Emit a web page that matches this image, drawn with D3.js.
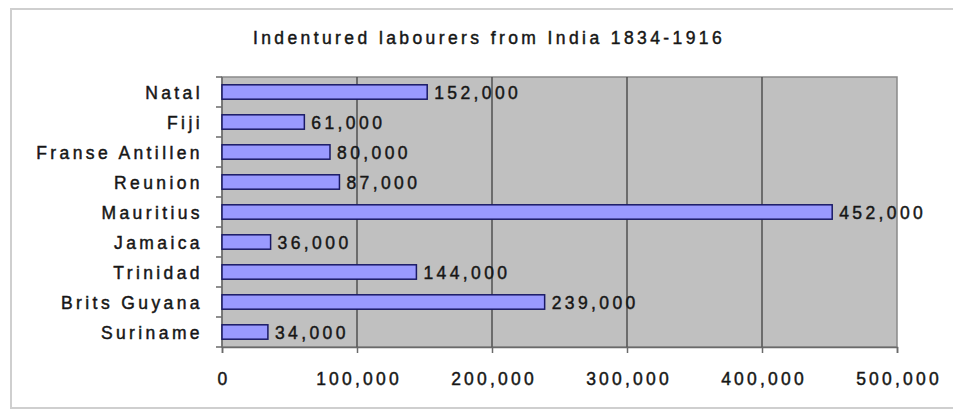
<!DOCTYPE html>
<html>
<head>
<meta charset="utf-8">
<script src="https://cdn.jsdelivr.net/npm/d3@7"></script>
<style>
  body { margin: 0; background: #fff; }
  text { font-family: "Liberation Sans", Arial, sans-serif; fill: #161616; stroke: #161616; stroke-width: 0.45; }
</style>
</head>
<body>
<svg></svg>
<script>
const places = ["Natal", "Fiji", "Franse Antillen", "Reunion", "Mauritius", "Jamaica", "Trinidad", "Brits Guyana", "Suriname"];
const labourers = [152000, 61000, 80000, 87000, 452000, 36000, 144000, 239000, 34000];
const xTicks = [0, 100000, 200000, 300000, 400000, 500000];

const width = 953;
const height = 410;
const margin = { top: 77, left: 222, bottom: 63, right: 56 };

const canvas = d3.select("svg").attr("width", width).attr("height", height);

// outer frame
canvas.append("rect")
  .attr("x", 11).attr("y", 9)
  .attr("width", 960).attr("height", 399)
  .attr("fill", "#fff").attr("stroke", "#cfcfcf").attr("stroke-width", 2);

const xScale = d3.scaleLinear().domain([0, 500000])
  .range([margin.left, width - margin.right]);

const yScale = d3.scaleBand().domain(places)
  .range([margin.top, height - margin.bottom])
  .paddingInner(0.52).paddingOuter(0.26);

// plot area
canvas.append("rect")
  .attr("x", xScale(0)).attr("y", margin.top)
  .attr("width", xScale(500000) - xScale(0))
  .attr("height", height - margin.bottom - margin.top)
  .attr("fill", "#c0c0c0").attr("stroke", "#8a8a8a").attr("stroke-width", 1.5);

// grid lines
canvas.append("g")
  .selectAll("line")
  .data(xTicks.slice(1, -1))
  .enter()
  .append("line")
  .attr("x1", d => xScale(d)).attr("x2", d => xScale(d))
  .attr("y1", margin.top).attr("y2", height - margin.bottom)
  .attr("stroke", "#505050").attr("stroke-width", 1.5);

// x axis
let xAxis = d3.axisBottom(xScale).tickValues(xTicks)
  .tickFormat(d3.format(",")).tickSize(6).tickPadding(20);
const gx = canvas.append("g")
  .attr("transform", `translate(0,${height - margin.bottom})`)
  .call(xAxis);
gx.select(".domain").attr("stroke", "#6a6a6a").attr("stroke-width", 1.5);
gx.selectAll(".tick line").attr("stroke", "#6a6a6a").attr("stroke-width", 1.5);
gx.selectAll("text").attr("font-size", 17.5).attr("letter-spacing", 3.2)
  .attr("dx", 1.5)
  .attr("font-family", "Liberation Sans, Arial, sans-serif");

// y axis: ticks between categories
const gy = canvas.append("g");
const bounds = d3.range(places.length + 1).map(i => margin.top + (height - margin.bottom - margin.top) * i / places.length);
gy.append("line")
  .attr("x1", xScale(0)).attr("x2", xScale(0))
  .attr("y1", margin.top).attr("y2", height - margin.bottom)
  .attr("stroke", "#6a6a6a").attr("stroke-width", 1.5);
gy.selectAll(".tk")
  .data(bounds)
  .enter()
  .append("line")
  .attr("x1", xScale(0) - 6).attr("x2", xScale(0))
  .attr("y1", d => d).attr("y2", d => d)
  .attr("stroke", "#6a6a6a").attr("stroke-width", 1.5);
gy.selectAll("text")
  .data(places)
  .enter()
  .append("text")
  .attr("x", xScale(0) - 19)
  .attr("y", d => yScale(d) + yScale.bandwidth() / 2)
  .attr("dy", "0.38em")
  .attr("text-anchor", "end")
  .attr("font-size", 17.5).attr("letter-spacing", 3.4)
  .text(d => d);

// bars
canvas.selectAll(".bar")
  .data(places)
  .enter()
  .append("rect")
  .attr("class", "bar")
  .attr("x", xScale(0))
  .attr("y", d => yScale(d))
  .attr("width", (d, i) => xScale(labourers[i]) - xScale(0))
  .attr("height", yScale.bandwidth())
  .attr("fill", "#9a9aff")
  .attr("stroke", "#1a1a66").attr("stroke-width", 1.5);

// value labels
canvas.selectAll(".val")
  .data(places)
  .enter()
  .append("text")
  .attr("x", (d, i) => xScale(labourers[i]) + 7)
  .attr("y", d => yScale(d) + yScale.bandwidth() / 2)
  .attr("dy", "0.38em")
  .attr("font-size", 17.5).attr("letter-spacing", 3.4)
  .text((d, i) => d3.format(",")(labourers[i]));

// title
canvas.append("text")
  .attr("x", 489).attr("y", 44)
  .attr("text-anchor", "middle")
  .attr("font-size", 17.5).attr("letter-spacing", 3.4)
  .text("Indentured labourers from India 1834-1916");
</script>
</body>
</html>
